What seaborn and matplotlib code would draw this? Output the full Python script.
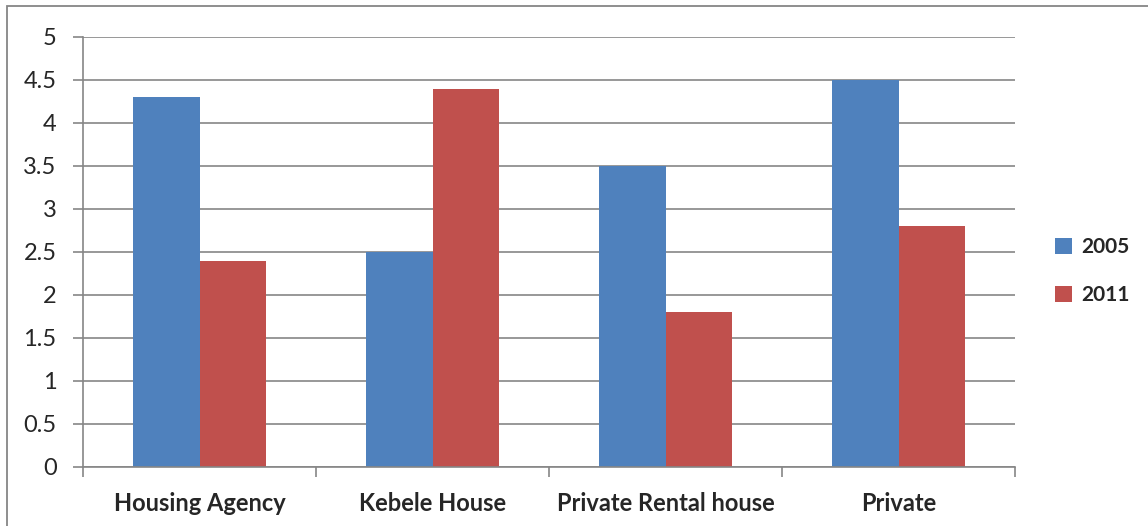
import matplotlib.pyplot as plt
import seaborn as sns
import pandas as pd
from matplotlib.patches import Rectangle

# Data
categories = ["Housing Agency", "Kebele House", "Private Rental house", "Private"]
values_2005 = [4.3, 2.5, 3.5, 4.5]
values_2011 = [2.4, 4.4, 1.8, 2.8]
years = ["2005", "2011"]
y_ticks = [0, 0.5, 1, 1.5, 2, 2.5, 3, 3.5, 4, 4.5, 5]

df = pd.DataFrame({
    "Source": categories * 2,
    "Year": [years[0]] * len(categories) + [years[1]] * len(categories),
    "Value": values_2005 + values_2011,
})

sns.set_theme(style="white")
plt.rcParams["font.family"] = ["Lato", "DejaVu Sans"]

grid_color = "#868686"

fig = plt.figure(figsize=(11.48, 5.26), dpi=100)
ax = fig.add_axes([0.0723, 0.1122, 0.8119, 0.8175])

# outer chart frame (only top and left visible in the crop)
fig.patches.append(Rectangle((0.0061, -0.05), 1.2, 1.0386, transform=fig.transFigure,
                             fill=False, edgecolor=grid_color, linewidth=1.3))

sns.barplot(data=df, x="Source", y="Value", hue="Year",
            palette=["#4F81BD", "#C0504D"], width=0.57, gap=0,
            linewidth=0, saturation=1, ax=ax)

ax.set_xlim(-0.5, len(categories) - 0.5)
ax.set_ylim(0, 5)
ax.set_yticks(y_ticks)
ax.set_yticklabels([f"{t:g}" for t in y_ticks], fontsize=17)
ax.yaxis.grid(True, color=grid_color, linewidth=1.2)
ax.set_axisbelow(True)

ax.set_xticks(range(len(categories)))
ax.set_xticklabels(categories, fontsize=17, fontweight="bold")
ax.set_xticks([i - 0.5 for i in range(len(categories) + 1)], minor=True)
ax.tick_params(axis="x", which="major", length=0, pad=18)
ax.tick_params(axis="x", which="minor", length=7, width=1.2, color=grid_color, direction="out", bottom=True)
ax.tick_params(axis="y", length=7, width=1.2, color=grid_color, direction="out", left=True, pad=12)

for side in ["top", "right"]:
    ax.spines[side].set_visible(False)
for side in ["left", "bottom"]:
    ax.spines[side].set_color(grid_color)
    ax.spines[side].set_linewidth(1.2)

ax.set_xlabel("")
ax.set_ylabel("")

leg = ax.legend(loc="center left", bbox_to_anchor=(0.903, 0.485), bbox_transform=fig.transFigure,
                frameon=False, prop={"weight": "bold", "size": 15},
                handlelength=0.8, handleheight=0.8, handletextpad=0.45, labelspacing=1.35)

plt.savefig("out.png", dpi=100)
plt.close(fig)
